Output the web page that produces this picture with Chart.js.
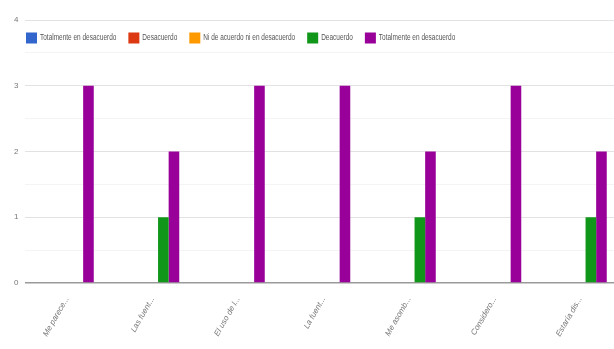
<!DOCTYPE html>
<html>
<head>
<meta charset="utf-8">
<script src="https://cdn.jsdelivr.net/npm/chart.js@4.4.1/dist/chart.umd.min.js"></script>
<style>
  html, body { margin: 0; padding: 0; background: #fff; overflow: hidden; }
  #wrap { width: 625px; height: 349px; }
</style>
</head>
<body>
<div id="wrap"><canvas id="grafico" width="625" height="349"></canvas></div>
<script>
// preguntas (etiquetas recortadas del eje X)
const preguntas = ['Me parece...', 'Las fuent...', 'El uso de l...', 'La fuent...', 'Me asomb...', 'Considero...', 'Estaría dis...']
const opciones = ['Totalmente en desacuerdo', 'Desacuerdo', 'Ni de acuerdo ni en desacuerdo', 'Deacuerdo', 'Totalmente en desacuerdo']
const colores = ['#3366cc', '#dc3912', '#ff9900', '#109618', '#990099']

// respuestas por opcion
const totDesacuerdo = [0, 0, 0, 0, 0, 0, 0]
const desacuerdo = [0, 0, 0, 0, 0, 0, 0]
const neutral = [0, 0, 0, 0, 0, 0, 0]
const deAcuerdo = [0, 1, 0, 0, 1, 0, 1]
const totAcuerdo = [3, 2, 3, 3, 2, 3, 2]

const series = [totDesacuerdo, desacuerdo, neutral, deAcuerdo, totAcuerdo]
const yTicks = [0, 1, 2, 3, 4]

// leyenda dibujada dentro del area del grafico
const leyenda = {
	id: 'leyenda',
	afterDraw(chart) {
		const ctx = chart.ctx
		let x = 26
		const y = 38
		ctx.save()
		ctx.font = '9px "Liberation Sans", Arial, sans-serif'
		ctx.textBaseline = 'middle'
		chart.data.datasets.forEach((ds) => {
			ctx.fillStyle = ds.backgroundColor
			ctx.fillRect(x, y - 5.5, 11, 11)
			x += 14
			const w = ctx.measureText(ds.label).width * 0.72
			ctx.save()
			ctx.translate(x, y)
			ctx.scale(0.72, 1)
			ctx.fillStyle = '#555'
			ctx.fillText(ds.label, 0, 0)
			ctx.restore()
			x += w + 12
		})
		ctx.restore()
	}
}

const ctx = document.getElementById('grafico').getContext('2d')
new Chart(ctx, {
	type: 'bar',
	data: {
		labels: preguntas,
		datasets: series.map((data, i) => ({
			label: opciones[i],
			data: data,
			backgroundColor: colores[i],
			borderWidth: 0,
			categoryPercentage: 0.62,
			barPercentage: 1.0,
		})),
	},
	options: {
		responsive: false,
		animation: false,
		layout: { padding: { top: 20, right: 2, left: 0, bottom: 0 } },
		plugins: {
			legend: { display: false },
			tooltip: { enabled: false },
		},
		scales: {
			x: {
				grid: { display: false },
				border: { display: false },
				ticks: {
					autoSkip: false,
					minRotation: 60,
					maxRotation: 60,
					padding: 4,
					color: '#777',
					font: { size: 8, style: 'italic', family: '"Liberation Sans", Arial, sans-serif' },
				},
				afterFit: (scale) => { scale.height = 66 },
			},
			y: {
				min: yTicks[0],
				max: yTicks[yTicks.length - 1],
				border: { display: false },
				ticks: {
					stepSize: 0.5,
					padding: 6,
					color: '#777',
					font: { size: 8, family: '"Liberation Sans", Arial, sans-serif' },
					callback: (v) => (yTicks.includes(v) ? v : ''),
				},
				grid: {
					drawTicks: false,
					color: (c) => (c.tick.value === 0 ? '#9a9a9a' : c.tick.value % 1 ? '#f4f4f4' : '#e2e2e2'),
					lineWidth: (c) => (c.tick.value === 0 ? 1.5 : 1),
				},
				afterFit: (scale) => { scale.width = 24.5 },
			},
		},
	},
	plugins: [leyenda],
})
</script>
</body>
</html>
